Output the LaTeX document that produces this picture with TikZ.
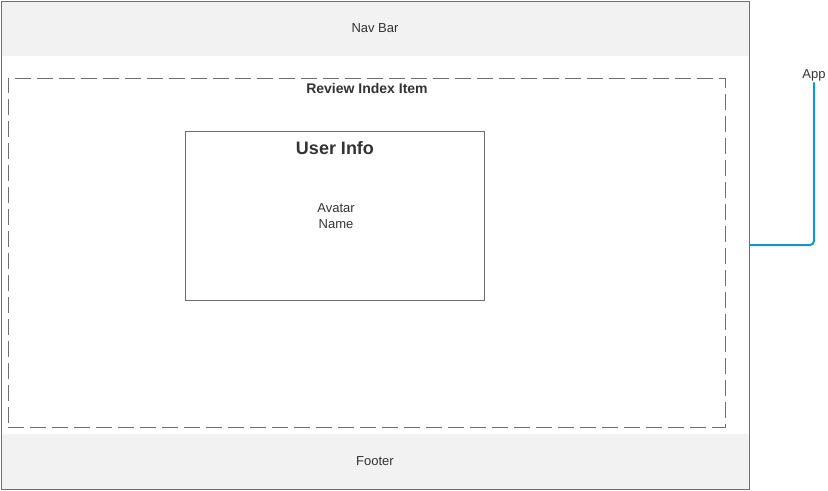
\documentclass[tikz,border=0pt]{standalone}
\usepackage{fontspec}
\setmainfont{Liberation Sans}
\begin{document}
\begin{tikzpicture}[x=0.75pt,y=-0.75pt,
  bar/.style={fill=barfill, minimum width=748*0.75pt, minimum height=55*0.75pt, inner sep=0pt, font=\fontsize{9.75}{12}\selectfont, text=textgray},
  txt/.style={text=textgray, inner sep=0pt}]
\definecolor{linegray}{RGB}{110,110,110}
\definecolor{barfill}{RGB}{242,242,242}
\definecolor{textgray}{RGB}{51,51,51}
\definecolor{appblue}{RGB}{16,152,204}
	\useasboundingbox (0,0) rectangle (828,490);
	\node[bar] (navbar) at (375,28.5) {Nav Bar};
	\node[bar] (footer) at (375,461) {Footer};
	\node[draw=linegray, minimum width=748*0.75pt, minimum height=488*0.75pt, inner sep=0pt] (app) at (375,245) {};
	\node[draw=linegray, dashed, dash pattern=on 12pt off 4.5pt, minimum width=717*0.75pt, minimum height=349*0.75pt, inner sep=0pt] (review) at (366.5,252.5) {};
	\node[draw=linegray, minimum width=299*0.75pt, minimum height=169*0.75pt, inner sep=0pt] (userinfo) at (334.5,215.5) {};
	
	\node[txt, font=\bfseries\fontsize{10.5}{12}\selectfont] (reviewlabel) at (367,88) {Review Index Item};
	\node[txt, font=\bfseries\fontsize{13.5}{16}\selectfont] (userlabel) at (335,148) {User Info};
	\node[txt, font=\fontsize{9.75}{12.5}\selectfont, align=center] (fields) at (336,216) {Avatar\\ Name};
	\node[txt, font=\fontsize{9.75}{12}\selectfont] (applabel) at (814,75) {App};
	
	\draw[appblue, line width=1.5pt, rounded corners=3pt] (app.east) -| ([yshift=-1pt]applabel.south);
\end{tikzpicture}
\end{document}
